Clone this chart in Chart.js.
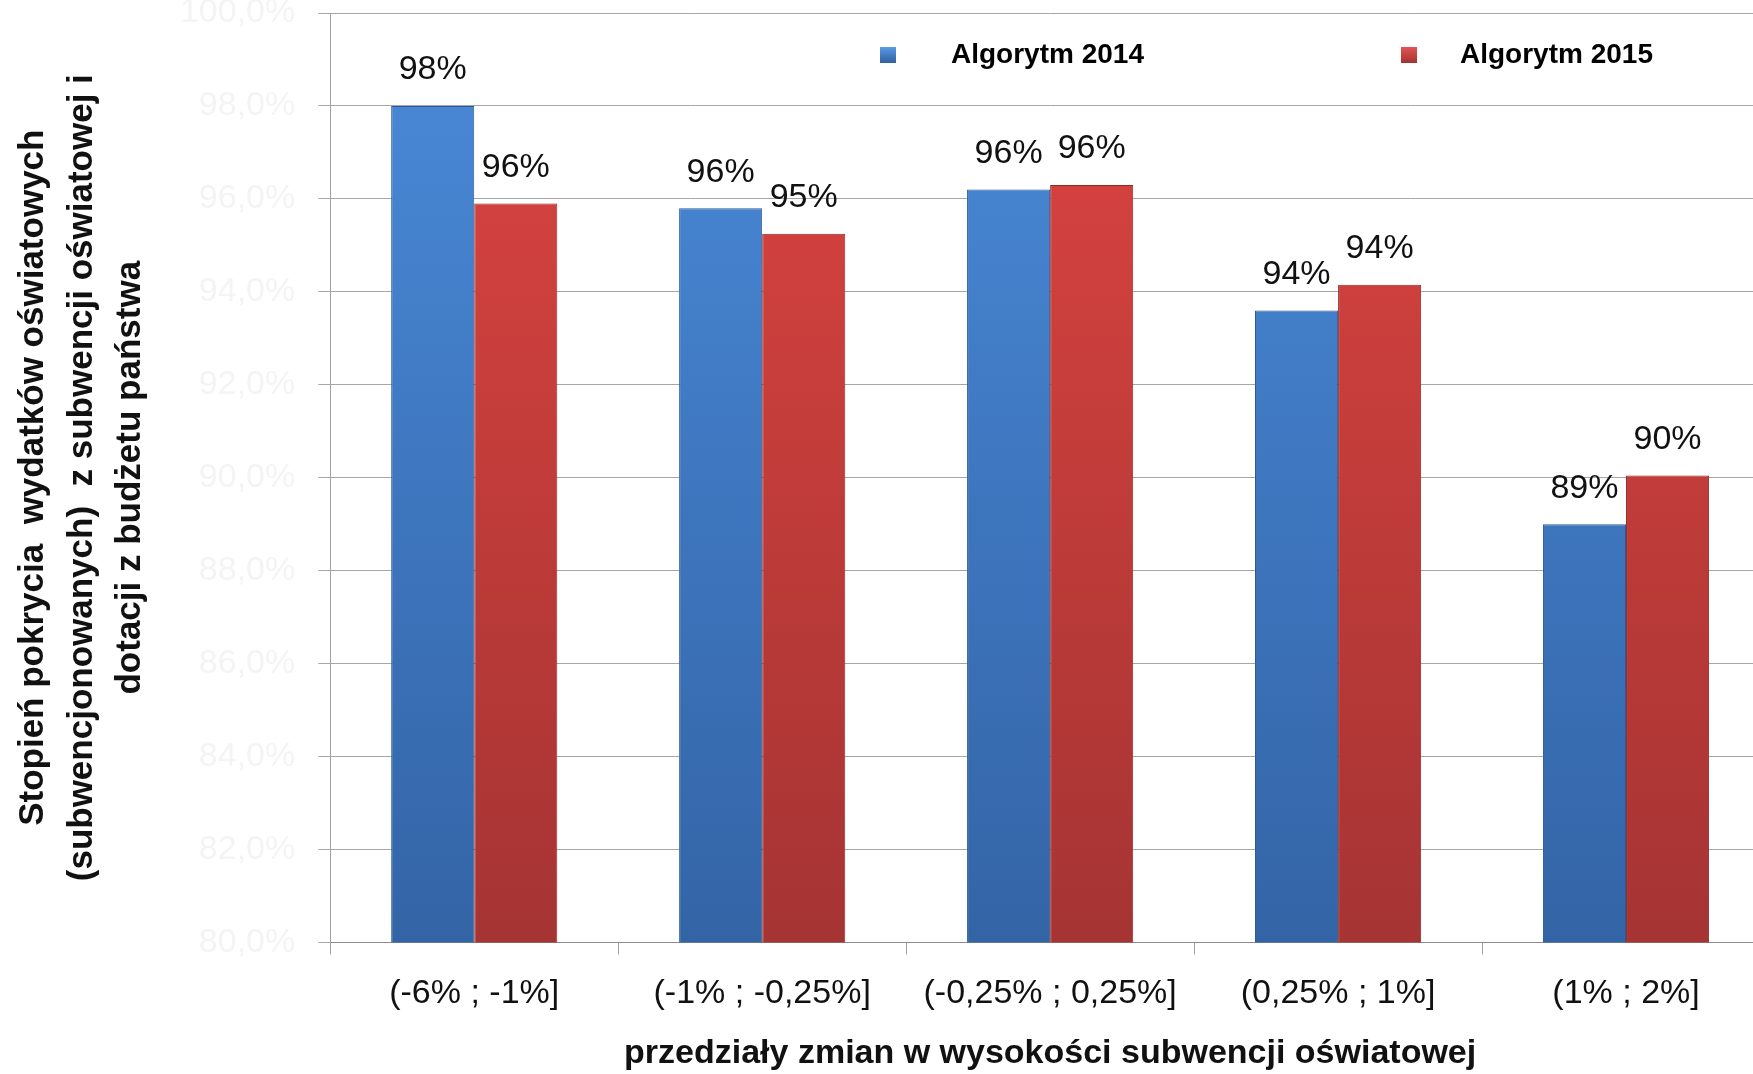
<!DOCTYPE html>
<html lang="pl">
<head>
<meta charset="utf-8">
<title>Stopień pokrycia wydatków oświatowych</title>
<script src="https://cdn.jsdelivr.net/npm/chart.js@4.4.1/dist/chart.umd.min.js"></script>
<style>
    html, body { margin: 0; padding: 0; background: #ffffff; overflow: hidden; }
    #wykres { display: block; }
</style>
</head>
<body>
<canvas id="wykres" width="1770" height="1074"></canvas>
<script>
// Dane z wykresu
const kategorie = ['(-6% ; -1%]', '(-1% ; -0,25%]', '(-0,25% ; 0,25%]', '(0,25% ; 1%]', '(1% ; 2%]'];
const algorytm2014 = [98.0, 95.8, 96.2, 93.6, 89.0];
const algorytm2015 = [95.9, 95.25, 96.3, 94.15, 90.05];
const nazwySerii = ['Algorytm 2014', 'Algorytm 2015'];
const osYMin = 80;
const osYMax = 100;
const osYKrok = 2;

const czcionka = "'Liberation Sans', Arial, sans-serif";

// Gradient dla słupków (jaśniej u góry, ciemniej na dole)
function gradient(kontekst, gora, dol) {
    const area = kontekst.chart.chartArea;
    if (!area) return gora;
    const g = kontekst.chart.ctx.createLinearGradient(0, area.top, 0, area.bottom);
    g.addColorStop(0, gora);
    g.addColorStop(1, dol);
    return g;
}

// Etykiety wartości nad słupkami
const etykietyWartosci = {
    id: 'etykietyWartosci',
    afterDatasetsDraw(chart) {
        const c = chart.ctx;
        c.save();
        c.font = '34px ' + czcionka;
        c.fillStyle = '#111111';
        c.textAlign = 'center';
        c.textBaseline = 'middle';
        chart.data.datasets.forEach((ds, i) => {
            chart.getDatasetMeta(i).data.forEach((bar, j) => {
                c.fillText(Math.round(ds.data[j]) + '%', bar.x, bar.y - 36);
            });
        });
        c.restore();
    }
};

// Legenda wewnątrz obszaru wykresu
const legendaWewnatrz = {
    id: 'legendaWewnatrz',
    afterDraw(chart) {
        const c = chart.ctx;
        const kwadraty = [888, 1409];
        const teksty = [951, 1460];
        const kolory = [['#5b9be6', '#2f5f9e'], ['#e25552', '#a33230']];
        c.save();
        c.font = 'bold 28px ' + czcionka;
        c.textBaseline = 'middle';
        chart.data.datasets.forEach((ds, i) => {
            const x = kwadraty[i];
            const y = 55;
            const g = c.createLinearGradient(0, y - 8, 0, y + 8);
            g.addColorStop(0, kolory[i][0]);
            g.addColorStop(1, kolory[i][1]);
            c.fillStyle = g;
            c.fillRect(x - 8, y - 8, 16, 16);
            c.fillStyle = '#000000';
            c.fillText(ds.label, teksty[i], y);
        });
        c.restore();
    }
};

const ctx = document.getElementById('wykres').getContext('2d');
const wykres = new Chart(ctx, {
    type: 'bar',
    data: {
        labels: kategorie,
        datasets: [{
            label: nazwySerii[0],
            data: algorytm2014,
            backgroundColor: k => gradient(k, '#4a8ad9', '#3364a6'),
            borderColor: '#2d5a94',
            borderWidth: 1
        }, {
            label: nazwySerii[1],
            data: algorytm2015,
            backgroundColor: k => gradient(k, '#dd4441', '#a53433'),
            borderColor: '#8e2b29',
            borderWidth: 1
        }]
    },
    options: {
        responsive: false,
        animation: false,
        layout: { padding: { left: 9, right: 0, top: 0, bottom: 0 } },
        plugins: {
            legend: { display: false },
            tooltip: { enabled: false }
        },
        datasets: {
            bar: { categoryPercentage: 0.577, barPercentage: 1.0 }
        },
        scales: {
            x: {
                grid: { drawOnChartArea: false, drawTicks: true, tickLength: 12, color: '#a0a0a0' },
                border: { color: '#8c8c8c', width: 1 },
                ticks: { color: '#111111', padding: 19, font: { family: czcionka, size: 34 } },
                title: {
                    display: true,
                    text: 'przedziały zmian w wysokości subwencji oświatowej',
                    color: '#111111',
                    font: { family: czcionka, size: 34, weight: 'bold', lineHeight: 1.2 },
                    padding: { top: 0, bottom: 0 }
                }
            },
            y: {
                min: osYMin,
                max: osYMax,
                grid: { color: '#a6a6a6', lineWidth: 1, drawTicks: true, tickLength: 12 },
                border: { color: '#a0a0a0', width: 1 },
                ticks: {
                    stepSize: osYKrok,
                    padding: 23,
                    color: '#f4f4f4',
                    font: { family: czcionka, size: 34 },
                    callback: v => v.toFixed(1).replace('.', ',') + '%'
                },
                title: {
                    display: true,
                    text: ['Stopień pokrycia  wydatków oświatowych', '(subwencjonowanych)  z subwencji oświatowej i', 'dotacji z budżetu państwa'],
                    color: '#111111',
                    font: { family: czcionka, size: 35, weight: 'bold', lineHeight: 1.39 },
                    padding: { top: 0, bottom: 2 }
                },
                // górna etykieta w oryginale jest ucięta, więc obszar wykresu zaczyna się wyżej
                afterFit: s => { s.paddingTop = 13; }
            }
        }
    },
    plugins: [etykietyWartosci, legendaWewnatrz]
});
</script>
</body>
</html>
